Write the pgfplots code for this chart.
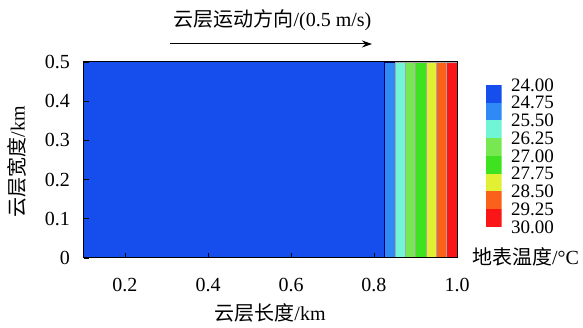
\documentclass[border=0pt]{standalone}
\usepackage{pgfplots}
\pgfplotsset{compat=1.18}
\usetikzlibrary{arrows.meta}
\usepackage{fontspec}
\setmainfont{Liberation Serif}
\newfontfamily\cjk{Noto Sans CJK SC}
\definecolor{c1}{RGB}{22,78,238}
\definecolor{c2}{RGB}{48,138,245}
\definecolor{c3}{RGB}{112,245,215}
\definecolor{c4}{RGB}{120,232,82}
\definecolor{c5}{RGB}{62,226,32}
\definecolor{c6}{RGB}{226,240,52}
\definecolor{c7}{RGB}{250,98,28}
\definecolor{c8}{RGB}{250,22,22}
\begin{document}
\begin{tikzpicture}[x=1pt,y=1pt]
\useasboundingbox (-83.5pt,-70pt) rectangle (499.5pt,258pt);
\begin{axis}[
  at={(0pt,0pt)}, anchor=south west,
  scale only axis, width=373.5pt, height=196pt,
  xmin=0.1, xmax=1.0, ymin=0, ymax=0.5,
  xtick={0.2,0.4,0.6,0.8,1.0},
  ytick={0,0.1,0.2,0.3,0.4,0.5},
  yticklabels={0,0.1,0.2,0.3,0.4,0.5},
  xticklabel style={/pgf/number format/fixed,/pgf/number format/fixed zerofill,/pgf/number format/precision=1, yshift=-17pt},
  yticklabel style={xshift=-10pt},
  /pgf/number format/assume math mode=true,
  tick align=inside, major tick length=5pt,
  xtick pos=bottom, ytick pos=left,
  tick style={black, line width=0.8pt},
  axis line style={black, line width=1pt},
  ticklabel style={font=\fontsize{20}{22}\selectfont},
  axis on top,
]
\addplot[fill=c1, draw=none] coordinates {(0.1,0) (0.825,0) (0.825,0.5) (0.1,0.5)} -- cycle;
\addplot[fill=c2, draw=blue!40!black, line width=0.4pt] coordinates {(0.825,0) (0.85,0) (0.85,0.5) (0.825,0.5)} -- cycle;
\addplot[fill=c3, draw=black!35, line width=0.3pt] coordinates {(0.85,0) (0.875,0) (0.875,0.5) (0.85,0.5)} -- cycle;
\addplot[fill=c4, draw=black!35, line width=0.3pt] coordinates {(0.875,0) (0.9,0) (0.9,0.5) (0.875,0.5)} -- cycle;
\addplot[fill=c5, draw=black!35, line width=0.3pt] coordinates {(0.9,0) (0.925,0) (0.925,0.5) (0.9,0.5)} -- cycle;
\addplot[fill=c6, draw=black!35, line width=0.3pt] coordinates {(0.925,0) (0.95,0) (0.95,0.5) (0.925,0.5)} -- cycle;
\addplot[fill=c7, draw=black!35, line width=0.3pt] coordinates {(0.95,0) (0.975,0) (0.975,0.5) (0.95,0.5)} -- cycle;
\addplot[fill=c8, draw=black!35, line width=0.3pt] coordinates {(0.975,0) (1.0,0) (1.0,0.5) (0.975,0.5)} -- cycle;
\end{axis}
% colour bar
\begin{axis}[
  at={(402.5pt,31pt)}, anchor=south west,
  scale only axis, width=15.7pt, height=142pt,
  xmin=0, xmax=1, ymin=24, ymax=30, y dir=reverse,
  hide x axis,
  axis y line*=right,
  y axis line style={draw=none},
  ytick={24,24.75,25.5,26.25,27,27.75,28.5,29.25,30},
  major tick length=0pt,
  yticklabel style={/pgf/number format/fixed,/pgf/number format/fixed zerofill,/pgf/number format/precision=2, font=\fontsize{19}{20}\selectfont, xshift=6pt},
  /pgf/number format/assume math mode=true,
]
\addplot[fill=c1, draw=none] coordinates {(0,24) (1,24) (1,24.75) (0,24.75)} -- cycle;
\addplot[fill=c2, draw=none] coordinates {(0,24.75) (1,24.75) (1,25.5) (0,25.5)} -- cycle;
\addplot[fill=c3, draw=none] coordinates {(0,25.5) (1,25.5) (1,26.25) (0,26.25)} -- cycle;
\addplot[fill=c4, draw=none] coordinates {(0,26.25) (1,26.25) (1,27) (0,27)} -- cycle;
\addplot[fill=c5, draw=none] coordinates {(0,27) (1,27) (1,27.75) (0,27.75)} -- cycle;
\addplot[fill=c6, draw=none] coordinates {(0,27.75) (1,27.75) (1,28.5) (0,28.5)} -- cycle;
\addplot[fill=c7, draw=none] coordinates {(0,28.5) (1,28.5) (1,29.25) (0,29.25)} -- cycle;
\addplot[fill=c8, draw=none] coordinates {(0,29.25) (1,29.25) (1,30) (0,30)} -- cycle;
\end{axis}
\node[font=\fontsize{20}{22}\selectfont, anchor=west] at (385pt,1pt) {{\cjk 地表温度}/°C};
\node[font=\fontsize{20}{22}\selectfont] at (189pt,238pt) {{\cjk 云层运动方向}/(0.5 m/s)};
\node[font=\fontsize{20}{22}\selectfont] at (186.5pt,-55pt) {{\cjk 云层长度}/km};
\node[font=\fontsize{20}{22}\selectfont, rotate=90] at (-66.5pt,96pt) {{\cjk 云层宽度}/km};
\draw[line width=1pt, -{Stealth[length=10pt,width=7pt]}] (86.5pt,214pt) -- (288.5pt,214pt);
\end{tikzpicture}
\end{document}
